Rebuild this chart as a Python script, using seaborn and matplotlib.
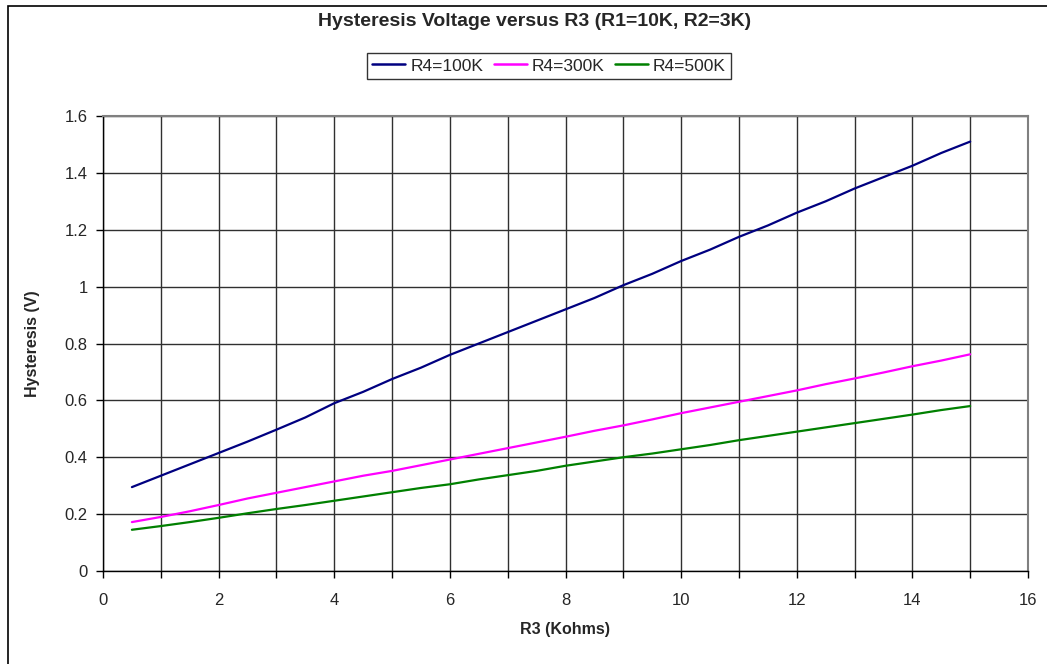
import numpy as np
import pandas as pd
import matplotlib
matplotlib.use("Agg")
import matplotlib.pyplot as plt
from matplotlib.patches import Rectangle
import seaborn as sns

# values
r3 = [0.5, 1.0, 1.5, 2.0, 2.5, 3.0, 3.5, 4.0, 4.5, 5.0,
      5.5, 6.0, 6.5, 7.0, 7.5, 8.0, 8.5, 9.0, 9.5, 10.0,
      10.5, 11.0, 11.5, 12.0, 12.5, 13.0, 13.5, 14.0, 14.5, 15.0]
r4_100k = [0.295, 0.335, 0.375, 0.415, 0.455, 0.497, 0.54, 0.59, 0.63, 0.675,
           0.715, 0.76, 0.80, 0.84, 0.88, 0.92, 0.96, 1.005, 1.045, 1.09,
           1.13, 1.175, 1.215, 1.26, 1.30, 1.345, 1.385, 1.425, 1.47, 1.51]
r4_300k = [0.172, 0.19, 0.21, 0.232, 0.255, 0.275, 0.295, 0.315, 0.335, 0.352,
           0.372, 0.392, 0.412, 0.432, 0.452, 0.472, 0.493, 0.512, 0.533, 0.555,
           0.575, 0.595, 0.615, 0.635, 0.657, 0.677, 0.698, 0.72, 0.74, 0.762]
r4_500k = [0.145, 0.158, 0.172, 0.187, 0.203, 0.218, 0.232, 0.247, 0.262, 0.277,
           0.292, 0.305, 0.322, 0.337, 0.352, 0.37, 0.385, 0.40, 0.413, 0.428,
           0.443, 0.46, 0.475, 0.49, 0.505, 0.52, 0.535, 0.55, 0.566, 0.58]
series_names = ["R4=100K", "R4=300K", "R4=500K"]
colors = ["#000080", "#FF00FF", "#008000"]

df = pd.DataFrame({"R3": r3 * 3,
                   "Hysteresis": r4_100k + r4_300k + r4_500k,
                   "Serie": [s for s in series_names for _ in r3]})

sns.set_style("white")
plt.rcParams["font.family"] = ["Liberation Sans", "DejaVu Sans"]

fig = plt.figure(figsize=(10.47, 6.64), dpi=100)
ax = fig.add_axes([103 / 1047, 1 - 571 / 664, 925 / 1047, 455 / 664])

sns.lineplot(data=df, x="R3", y="Hysteresis", hue="Serie", palette=colors,
             linewidth=1.6, ax=ax, legend=False)

ax.set_xlim(0, 16)
ax.set_ylim(0, 1.6)
ax.set_xticks(np.arange(0, 17, 2))
ax.set_xticks(np.arange(0, 17, 1), minor=True)
ax.set_yticks(np.arange(0, 1.61, 0.2))
ax.set_yticklabels(["0", "0.2", "0.4", "0.6", "0.8", "1", "1.2", "1.4", "1.6"])
ax.grid(True, which="both", axis="x", color="#303030", linewidth=1)
ax.grid(True, which="major", axis="y", color="#303030", linewidth=1)
ax.tick_params(axis="both", which="both", direction="out", length=5, width=1,
               color="black", labelsize=12, bottom=True, left=True)
ax.tick_params(axis="x", pad=11)
ax.tick_params(axis="y", pad=6)

for side in ["left", "bottom"]:
    ax.spines[side].set_color("black")
    ax.spines[side].set_linewidth(1)
for side in ["top", "right"]:
    ax.spines[side].set_color("#808080")
    ax.spines[side].set_linewidth(1.5)

ax.set_xlabel("R3 (Kohms)", fontsize=11.5, fontweight="bold", labelpad=10)
ax.set_ylabel("Hysteresis (V)", fontsize=11.5, fontweight="bold", labelpad=18)

fig.text(535 / 1047, 1 - 22 / 664, "Hysteresis Voltage versus R3 (R1=10K, R2=3K)",
         ha="center", va="center", fontsize=14, fontweight="bold")

handles = [plt.Line2D([], [], color=c, linewidth=1.8) for c in colors]
leg = fig.legend(handles, series_names, loc="center", ncol=3,
                 bbox_to_anchor=(549 / 1047, 1 - 66 / 664), frameon=True,
                 fancybox=False, fontsize=12.5, handlelength=1.9,
                 handletextpad=0.3, columnspacing=0.6, borderpad=0.3)
leg.get_frame().set_edgecolor("black")
leg.get_frame().set_linewidth(1)

fig.patches.append(Rectangle((8 / 1047, -0.05), 1.2, 1.05 - 6 / 664,
                             transform=fig.transFigure, fill=False,
                             edgecolor="black", linewidth=1.2))

fig.savefig("out.png", dpi=100)
